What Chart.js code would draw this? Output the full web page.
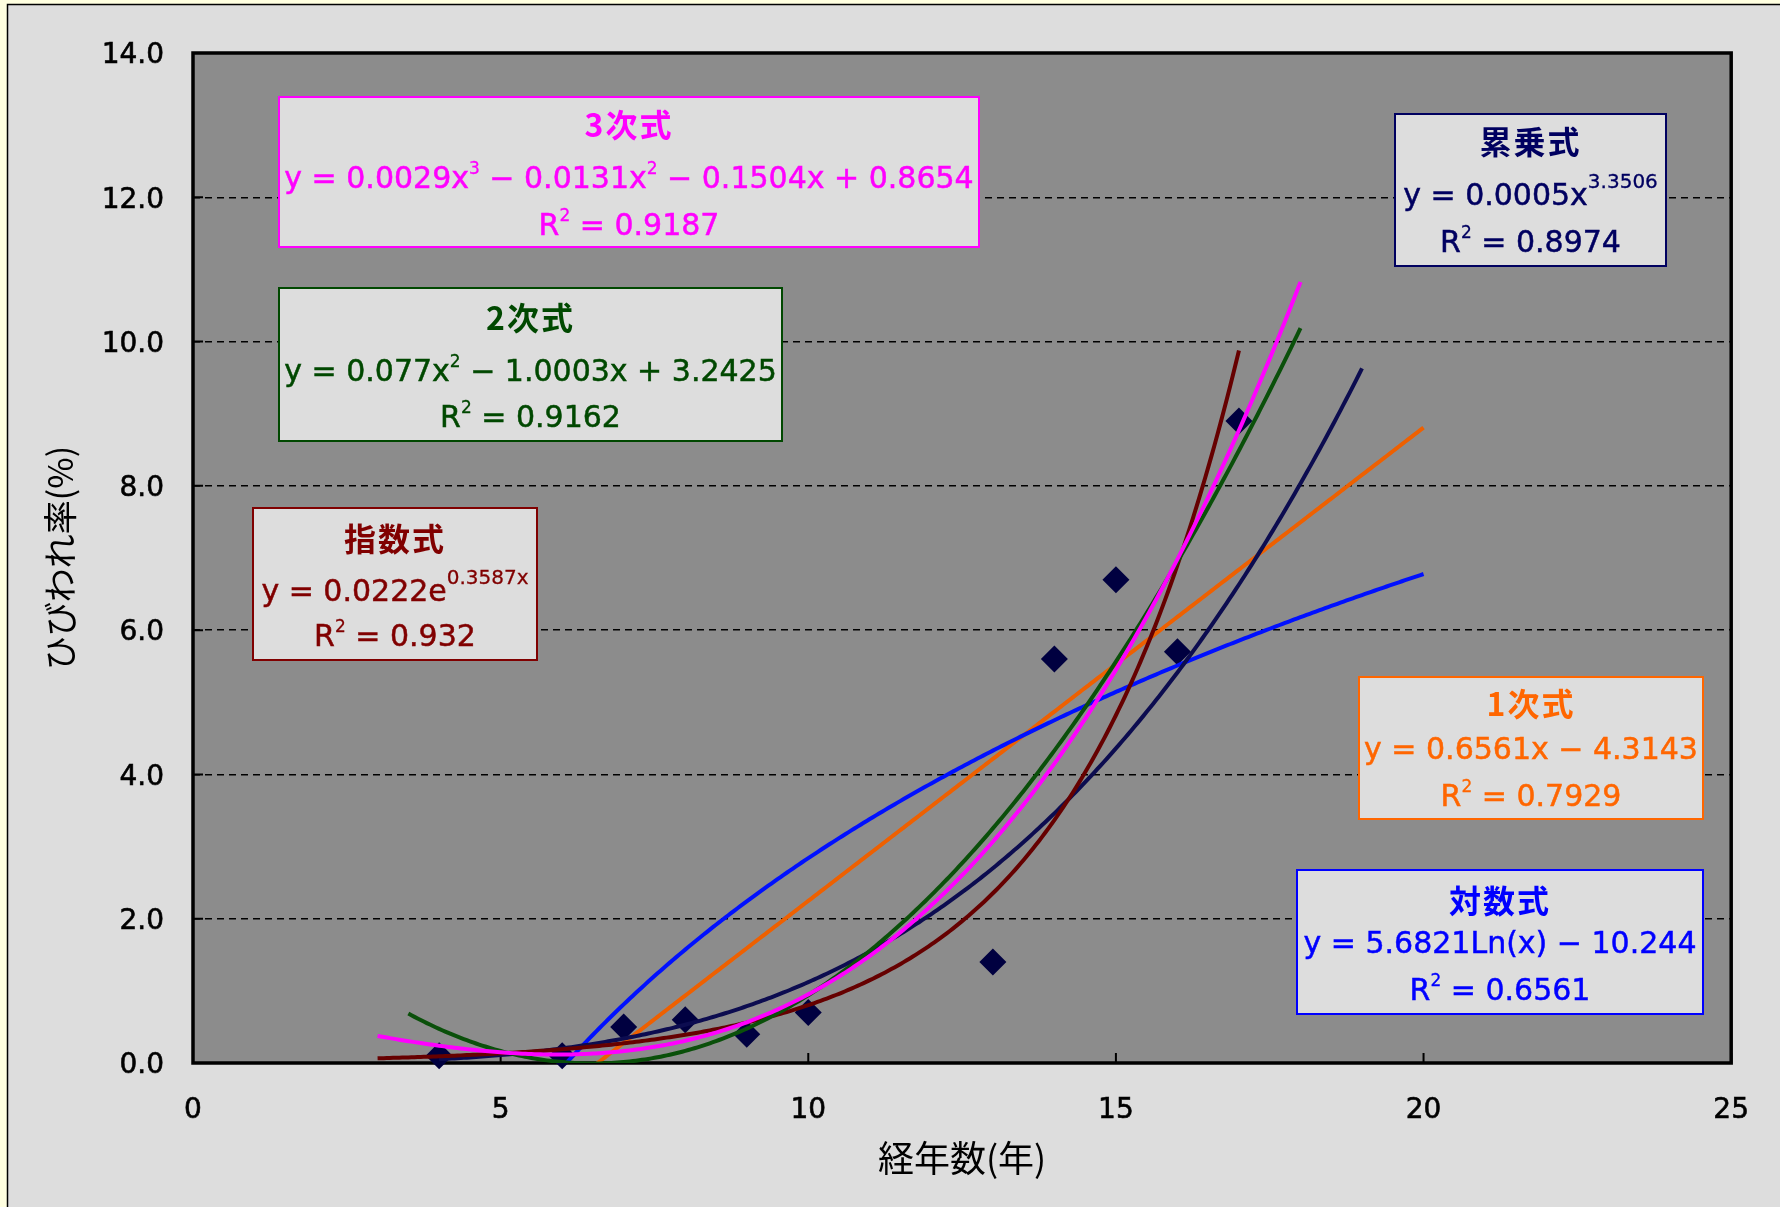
<!DOCTYPE html>
<html lang="ja">
<head>
<meta charset="utf-8">
<title>ひびわれ率と経年数</title>
<script src="https://cdn.jsdelivr.net/npm/chart.js@4.4.1/dist/chart.umd.min.js"></script>
<style>
  html, body { margin: 0; padding: 0; background: #FFFFE0; }
  canvas { display: block; }
</style>
</head>
<body>
<canvas id="chart" width="1780" height="1207"></canvas>
<script>
// Observed crack rate (%) by elapsed years
const years = [4, 6, 7, 8, 9, 10, 13, 14, 15, 16, 17];
const crackRates = [0.1, 0.1, 0.5, 0.6, 0.4, 0.7, 1.4, 5.6, 6.7, 5.7, 8.9];

// Trendline coefficients as printed in each label
const linearCoef = [0.6561, -4.3143];              // y = a·x + b
const logCoef = [5.6821, -10.244];                 // y = a·Ln(x) + b
const powerCoef = [0.0005, 3.3506];                // y = a·x^b
const expCoef = [0.0222, 0.3587];                  // y = a·e^(b·x)
const quadCoef = [0.077, -1.0003, 3.2425];         // y = a·x² + b·x + c
const cubicCoef = [0.0029, -0.0131, -0.1504, 0.8654];

// order: linear, log, power, exponential, quadratic, cubic
const trendNames = ['1次式', '対数式', '累乗式', '指数式', '2次式', '3次式'];
const rSquared = [0.7929, 0.6561, 0.8974, 0.932, 0.9162, 0.9187];
const trendRanges = [[4, 20], [4, 20], [4, 19], [3, 17], [3.5, 18], [3, 18]];

const xTicks = [0, 5, 10, 15, 20, 25];
const yTicks = [0, 2, 4, 6, 8, 10, 12, 14];

// ---- styling ----
const LATIN = "'DejaVu Sans', 'Noto Sans CJK JP', sans-serif";
const CJK = "'Noto Sans CJK JP', 'DejaVu Sans', sans-serif";
const trendColors = ['#EE6000', '#0010FF', '#0C0C50', '#660000', '#0A500A', '#FF00FF'];
const labelColors = ['#FF6600', '#0000FF', '#000060', '#800000', '#004800', '#FF00FF'];

// label box geometry (canvas px) and row centres relative to the box top
const labelBoxes = [
  { left: 1359, top: 677, width: 344, height: 142, rows: [27, 71, 118] },
  { left: 1297, top: 870, width: 406, height: 144, rows: [30.5, 71.5, 118.5] },
  { left: 1395, top: 114, width: 271, height: 152, rows: [28, 79.5, 127] },
  { left: 253,  top: 508, width: 284, height: 152, rows: [31, 82, 127] },
  { left: 279,  top: 288, width: 503, height: 153, rows: [29.5, 82, 127.5] },
  { left: 279,  top: 97,  width: 700, height: 150, rows: [27.5, 80, 127] }
];

const trendFns = [
  x => linearCoef[0] * x + linearCoef[1],
  x => logCoef[0] * Math.log(x) + logCoef[1],
  x => powerCoef[0] * Math.pow(x, powerCoef[1]),
  x => expCoef[0] * Math.exp(expCoef[1] * x),
  x => (quadCoef[0] * x + quadCoef[1]) * x + quadCoef[2],
  x => ((cubicCoef[0] * x + cubicCoef[1]) * x + cubicCoef[2]) * x + cubicCoef[3]
];

function curve(fn, range) {
  const [x0, x1] = range;
  const n = Math.round((x1 - x0) / 0.05);
  const pts = [];
  for (let i = 0; i <= n; i++) {
    const x = x0 + (x1 - x0) * i / n;
    pts.push({ x, y: fn(x) });
  }
  return pts;
}

// equation text built from the same coefficients
const num = v => String(Math.abs(v));
const sgn = v => (v < 0 ? ' − ' : ' + ');
const eqParts = [
  [['y = ' + num(linearCoef[0]) + 'x' + sgn(linearCoef[1]) + num(linearCoef[1])]],
  [['y = ' + num(logCoef[0]) + 'Ln(x)' + sgn(logCoef[1]) + num(logCoef[1])]],
  [['y = ' + num(powerCoef[0]) + 'x'], [num(powerCoef[1]), 'sup']],
  [['y = ' + num(expCoef[0]) + 'e'], [num(expCoef[1]) + 'x', 'sup']],
  [['y = ' + num(quadCoef[0]) + 'x'], ['2', 'sup'],
   [sgn(quadCoef[1]) + num(quadCoef[1]) + 'x' + sgn(quadCoef[2]) + num(quadCoef[2])]],
  [['y = ' + num(cubicCoef[0]) + 'x'], ['3', 'sup'],
   [sgn(cubicCoef[1]) + num(cubicCoef[1]) + 'x'], ['2', 'sup'],
   [sgn(cubicCoef[2]) + num(cubicCoef[2]) + 'x' + sgn(cubicCoef[3]) + num(cubicCoef[3])]]
];

function partStyle(text, kind) {
  if (kind === 'title') return { font: 'bold 32px ' + CJK, dy: 12, spacing: '2px', stroke: 0 };
  if (kind === 'sup') {
    const big = text.length > 1;
    return { font: (big ? 20 : 17) + 'px ' + LATIN, dy: big ? -6 : -3, spacing: '0px', stroke: 0.3 };
  }
  return { font: '30px ' + LATIN, dy: 11, spacing: '0px', stroke: 0.5 };
}

function drawRow(ctx, parts, cx, cy) {
  const styled = parts.map(([t, k]) => ({ t, s: partStyle(t, k) }));
  let total = 0;
  styled.forEach(p => {
    ctx.font = p.s.font;
    ctx.letterSpacing = p.s.spacing;
    p.w = ctx.measureText(p.t).width;
    total += p.w;
  });
  let x = cx - total / 2;
  ctx.textAlign = 'left';
  ctx.textBaseline = 'alphabetic';
  ctx.strokeStyle = ctx.fillStyle;
  styled.forEach(p => {
    ctx.font = p.s.font;
    ctx.letterSpacing = p.s.spacing;
    ctx.fillText(p.t, x, cy + p.s.dy);
    if (p.s.stroke) {
      ctx.lineWidth = p.s.stroke;
      ctx.strokeText(p.t, x, cy + p.s.dy);
    }
    x += p.w;
  });
  ctx.letterSpacing = '0px';
}

const chartDecor = {
  id: 'chartDecor',
  beforeDraw(chart) {
    const { ctx, width, height, chartArea: a } = chart;
    ctx.save();
    ctx.fillStyle = '#FFFFE0';
    ctx.fillRect(0, 0, width, height);
    ctx.fillStyle = '#DDDDDD';
    ctx.fillRect(7, 4, width, height);
    ctx.strokeStyle = '#000';
    ctx.lineWidth = 1.5;
    ctx.beginPath();
    ctx.moveTo(7.5, height);
    ctx.lineTo(7.5, 4.5);
    ctx.lineTo(width, 4.5);
    ctx.stroke();
    ctx.fillStyle = '#8C8C8C';
    ctx.fillRect(a.left, a.top, a.right - a.left, a.bottom - a.top);
    ctx.restore();
  },
  beforeDatasetsDraw(chart) {
    const { ctx, chartArea: a, scales } = chart;
    ctx.save();
    ctx.strokeStyle = '#000';
    ctx.lineWidth = 2;
    ctx.beginPath();
    xTicks.forEach(v => {
      const px = scales.x.getPixelForValue(v);
      ctx.moveTo(px, a.bottom);
      ctx.lineTo(px, a.bottom - 10);
    });
    yTicks.forEach(v => {
      const py = scales.y.getPixelForValue(v);
      ctx.moveTo(a.left, py);
      ctx.lineTo(a.left + 10, py);
    });
    ctx.stroke();
    ctx.lineWidth = 3.5;
    ctx.strokeRect(a.left, a.top, a.right - a.left, a.bottom - a.top);
    ctx.restore();
  },
  afterDatasetsDraw(chart) {
    const ctx = chart.ctx;
    labelBoxes.forEach((b, i) => {
      ctx.save();
      ctx.fillStyle = '#DDDDDD';
      ctx.fillRect(b.left, b.top, b.width, b.height);
      ctx.strokeStyle = labelColors[i];
      ctx.lineWidth = 2;
      ctx.strokeRect(b.left, b.top, b.width, b.height);
      ctx.fillStyle = labelColors[i];
      const cx = b.left + b.width / 2;
      drawRow(ctx, [[trendNames[i], 'title']], cx, b.top + b.rows[0]);
      drawRow(ctx, eqParts[i], cx, b.top + b.rows[1]);
      drawRow(ctx, [['R'], ['2', 'sup'], [' = ' + rSquared[i]]], cx, b.top + b.rows[2]);
      ctx.restore();
    });
  }
};

const datasets = trendFns.map((fn, i) => ({
  type: 'line',
  label: trendNames[i],
  data: curve(fn, trendRanges[i]),
  borderColor: trendColors[i],
  borderWidth: 4,
  pointRadius: 0,
  fill: false,
  tension: 0,
  clip: 0,
  order: trendFns.length - i
}));
datasets.push({
  type: 'scatter',
  label: 'ひびわれ率',
  data: years.map((x, i) => ({ x, y: crackRates[i] })),
  pointStyle: 'rectRot',
  pointRadius: 13.5,
  backgroundColor: '#000040',
  borderWidth: 0,
  clip: false,
  order: trendFns.length + 1
});

new Chart(document.getElementById('chart'), {
  type: 'scatter',
  data: { datasets },
  plugins: [chartDecor],
  options: {
    responsive: false,
    animation: false,
    devicePixelRatio: 1,
    events: [],
    layout: { padding: { top: 53, right: 47, bottom: 0, left: 0 } },
    plugins: { legend: { display: false }, tooltip: { enabled: false } },
    scales: {
      x: {
        type: 'linear',
        min: xTicks[0],
        max: xTicks[xTicks.length - 1],
        afterBuildTicks: s => { s.ticks = xTicks.map(v => ({ value: v })); },
        ticks: {
          color: '#000', font: { family: LATIN, size: 28 }, padding: 31, maxRotation: 0,
          textStrokeColor: '#000', textStrokeWidth: 0.6
        },
        grid: { display: false, drawTicks: false },
        border: { display: false },
        title: {
          display: true, text: '経年数(年)', color: '#000',
          font: { family: CJK, size: 36 }, padding: { top: 0, bottom: 27 }
        },
        afterFit: s => { s.height = 144; }
      },
      y: {
        type: 'linear',
        min: yTicks[0],
        max: yTicks[yTicks.length - 1],
        afterBuildTicks: s => { s.ticks = yTicks.map(v => ({ value: v })); },
        ticks: {
          color: '#000', font: { family: LATIN, size: 28 }, padding: 29, labelOffset: 3,
          textStrokeColor: '#000', textStrokeWidth: 0.6,
          callback: v => Number(v).toFixed(1)
        },
        grid: { color: '#000', lineWidth: 1.5, drawTicks: false },
        border: { display: false, dash: [7, 5] },
        title: {
          display: true, text: 'ひびわれ率(%)', color: '#000',
          font: { family: CJK, size: 34 }, padding: { top: 40, bottom: 0 }
        },
        afterFit: s => { s.width = 193; }
      }
    }
  }
});
</script>
</body>
</html>
